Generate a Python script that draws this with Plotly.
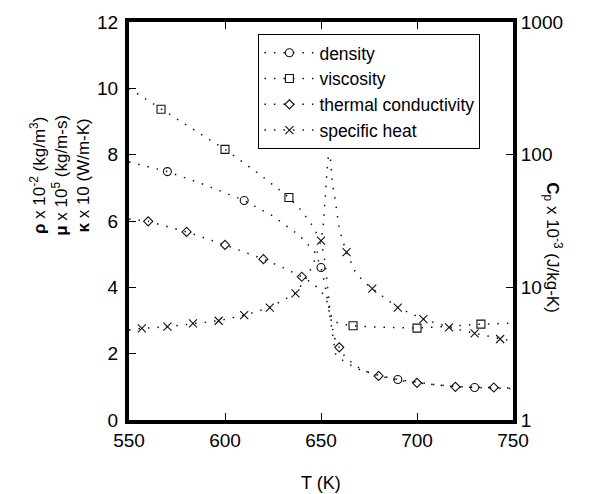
import plotly.graph_objects as go

# ---- data ----
# curves (T in K)
dens_T = [550, 570, 590, 610, 625, 634, 639, 643, 647, 650, 652, 654, 655.5, 656.5, 657.5, 660, 663, 667, 671, 680, 690, 700, 710, 720, 730, 740, 750]
dens_v = [7.78, 7.49, 7.08, 6.62, 6.15, 5.78, 5.55, 5.3, 5.04, 4.6, 4.1, 3.4, 2.8, 2.3, 2.0, 1.85, 1.75, 1.6, 1.5, 1.35, 1.22, 1.13, 1.06, 1.01, 0.98, 0.96, 0.95]

visc_T = [550, 566.7, 583, 600, 617, 633.3, 640, 645, 650, 652, 653.5, 654.5, 655.5, 657, 660, 666.7, 680, 700, 715, 733.3, 750]
visc_v = [10.0, 9.37, 8.78, 8.16, 7.45, 6.71, 6.3, 5.9, 5.4, 4.8, 4.0, 3.4, 3.1, 2.97, 2.9, 2.84, 2.8, 2.77, 2.82, 2.89, 2.92]

cond_T = [550, 560, 580, 600, 620, 630, 640, 645, 650, 653, 655, 656.5, 658, 659.5, 662, 665, 671, 680, 690, 700, 720, 740, 750]
cond_v = [6.06, 5.99, 5.67, 5.28, 4.85, 4.6, 4.32, 4.15, 3.9, 3.6, 3.1, 2.6, 2.3, 2.19, 1.95, 1.78, 1.52, 1.33, 1.2, 1.12, 1.0, 0.98, 0.96]

cp_T = [550, 556.7, 570, 583.3, 596.7, 610, 623.3, 636.7, 642, 646, 650, 651.2, 651.9, 652.4, 653, 653.8, 654.3, 654.8, 655.2, 655.9, 656.9, 658.1, 659.5, 661.5, 663.3, 667.7, 672, 676.7, 690, 703.3, 716.7, 730, 743.3, 750]
cp_v = [4.77, 4.9, 5.05, 5.34, 5.6, 6.17, 7.04, 9.02, 11.5, 15.0, 22.5, 29.5, 38, 52, 72, 97, 100, 97, 83, 61, 51, 38.5, 27.9, 22, 18.4, 13.2, 11.1, 9.77, 7.04, 5.76, 5.0, 4.5, 4.08, 3.92]

# markers
dens_mT = [570, 610, 650, 690, 730]
dens_mv = [7.49, 6.62, 4.6, 1.22, 0.98]
visc_mT = [566.7, 600, 633.3, 666.7, 700, 733.3]
visc_mv = [9.37, 8.16, 6.71, 2.84, 2.77, 2.89]
cond_mT = [560, 580, 600, 620, 640, 659.5, 680, 700, 720, 740]
cond_mv = [5.99, 5.67, 5.28, 4.85, 4.32, 2.19, 1.33, 1.12, 1.0, 0.98]
cp_mT = [556.7, 570, 583.3, 596.7, 610, 623.3, 636.7, 650, 663.3, 676.7, 690, 703.3, 716.7, 730, 743.3]
cp_mv = [4.9, 5.05, 5.34, 5.6, 6.17, 7.04, 9.02, 22.5, 18.4, 9.77, 7.04, 5.76, 5.0, 4.5, 4.08]

names = ["density", "viscosity", "thermal conductivity", "specific heat"]
x_ticks = [550, 600, 650, 700, 750]
y_ticks = [0, 2, 4, 6, 8, 10, 12]
y2_ticks = [1, 10, 100, 1000]

FONT = "Arial, Liberation Sans, sans-serif"
DOT = "1.5px,8px"
LC = "#111"

series = [
    (dens_T, dens_v, dens_mT, dens_mv, "circle-open", 8, "y"),
    (visc_T, visc_v, visc_mT, visc_mv, "square-open", 8, "y"),
    (cond_T, cond_v, cond_mT, cond_mv, "diamond-open", 7, "y"),
    (cp_T, cp_v, cp_mT, cp_mv, "x-thin-open", 8, "y2"),
]

fig = go.Figure()
for (cT, cv, mT, mv, sym, sz, ax), nm in zip(series, names):
    fig.add_trace(go.Scatter(x=cT, y=cv, mode="lines", yaxis=ax, showlegend=False,
                             line=dict(color=LC, width=1.5, dash=DOT)))
    fig.add_trace(go.Scatter(x=mT, y=mv, mode="markers", yaxis=ax, showlegend=False,
                             marker=dict(symbol=sym, size=sz, color=LC, line=dict(width=1.1, color=LC))))
    fig.add_trace(go.Scatter(x=[None], y=[None], mode="lines+markers", yaxis=ax, name=nm,
                             line=dict(color=LC, width=1.5, dash=DOT),
                             marker=dict(symbol=sym, size=sz, color=LC, line=dict(width=1.1, color=LC))))

axis_common = dict(showline=True, linewidth=4, linecolor="black", ticks="inside", ticklen=7,
                   tickwidth=1, tickcolor="black", showgrid=False, zeroline=False,
                   tickfont=dict(family=FONT, size=19, color="black"))

fig.update_layout(
    width=600, height=494,
    margin=dict(l=129, r=87, t=19, b=74),
    paper_bgcolor="white", plot_bgcolor="white",
    font=dict(family=FONT, size=18, color="black"),
    xaxis=dict(range=[550, 750], tickvals=x_ticks, mirror="ticks", **axis_common),
    yaxis=dict(range=[0, 12], tickvals=y_ticks, ticklabelstandoff=3, **axis_common),
    yaxis2=dict(range=[0, 3], type="log", overlaying="y", side="right",
                tickvals=y2_ticks, ticktext=[str(v) for v in y2_ticks], **axis_common),
    legend=dict(x=0.337, y=0.97, xanchor="left", yanchor="top", bgcolor="white",
                bordercolor="black", borderwidth=1, traceorder="normal", itemwidth=50,
                font=dict(family=FONT, size=17.5, color="black")),
    annotations=[
        dict(text="<b>ρ</b> x 10<sup>-2</sup> (kg/m<sup>3</sup>)<br><b>μ</b> x 10<sup>5</sup> (kg/m-s)<br><b>κ</b> x 10 (W/m-K)",
             xref="paper", yref="paper", x=(60 - 129) / 384, y=(420 - 174) / 401,
             xanchor="center", yanchor="middle", textangle=-90, showarrow=False,
             font=dict(family=FONT, size=17, color="black")),
        dict(text="<b>C</b><sub>p</sub> x 10<sup>-3</sup> (J/kg-K)",
             xref="paper", yref="paper", x=(553 - 129) / 384, y=(420 - 246) / 401,
             xanchor="center", yanchor="middle", textangle=90, showarrow=False,
             font=dict(family=FONT, size=17, color="black")),
        dict(text="T (K)", xref="paper", yref="paper", x=0.5, y=(420 - 483) / 401,
             xanchor="center", yanchor="middle", showarrow=False,
             font=dict(family=FONT, size=18, color="black")),
    ],
)

fig.write_html("out.html")
